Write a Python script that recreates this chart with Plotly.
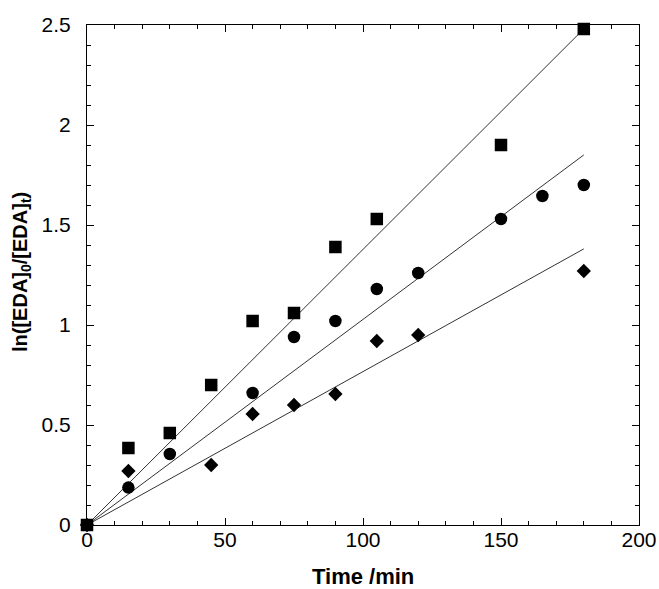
import plotly.graph_objects as go

# Data
sq_t = [0, 15, 30, 45, 60, 75, 90, 105, 150, 180]
sq_v = [0, 0.385, 0.46, 0.70, 1.02, 1.06, 1.39, 1.53, 1.90, 2.48]

ci_t = [0, 15, 30, 60, 75, 90, 105, 120, 150, 165, 180]
ci_v = [0, 0.187, 0.355, 0.66, 0.94, 1.02, 1.18, 1.26, 1.53, 1.645, 1.70]

di_t = [0, 15, 45, 60, 75, 90, 105, 120, 180]
di_v = [0, 0.27, 0.30, 0.555, 0.60, 0.655, 0.92, 0.95, 1.27]

# Linear fits through origin (slope per minute), drawn from 0 to 180 min
fit_t = [0, 180]
fit_slopes = [0.01378, 0.01028, 0.00767]

fig = go.Figure()

for s in fit_slopes:
    fig.add_trace(go.Scatter(x=fit_t, y=[s * t for t in fit_t], mode="lines",
                             line=dict(color="#333333", width=1), showlegend=False,
                             hoverinfo="skip"))

fig.add_trace(go.Scatter(x=di_t, y=di_v, mode="markers", cliponaxis=False,
                         marker=dict(symbol="diamond", size=11, color="black"), showlegend=False))
fig.add_trace(go.Scatter(x=ci_t, y=ci_v, mode="markers", cliponaxis=False,
                         marker=dict(symbol="circle", size=12.5, color="black"), showlegend=False))
fig.add_trace(go.Scatter(x=sq_t, y=sq_v, mode="markers", cliponaxis=False,
                         marker=dict(symbol="square", size=12.5, color="black"), showlegend=False))

font_family = "Liberation Sans, Arial, sans-serif"

L, R, T, B = 87, 20, 25, 64
W, H = 659, 589
pw, ph = W - L - R, H - T - B

fig.update_layout(
    width=W, height=H,
    margin=dict(l=L, r=R, t=T, b=B),
    plot_bgcolor="white", paper_bgcolor="white",
    font=dict(family=font_family, size=21, color="black"),
    xaxis=dict(range=[0, 200], dtick=50, tick0=0, showgrid=False, zeroline=False,
               showline=True, linecolor="black", linewidth=1, mirror="allticks",
               ticks="inside", ticklen=7, tickcolor="black", automargin=False,
               ticklabelstandoff=-4,
               minor=dict(dtick=10, ticks="inside", ticklen=4, tickcolor="black")),
    yaxis=dict(range=[0, 2.5], dtick=0.5, tick0=0, showgrid=False, zeroline=False,
               showline=True, linecolor="black", linewidth=1, mirror="allticks",
               ticks="inside", ticklen=7, tickcolor="black", automargin=False,
               ticklabelstandoff=11,
               minor=dict(dtick=0.1, ticks="inside", ticklen=4, tickcolor="black")),
    annotations=[
        dict(text="<b>Time /min</b>", xref="paper", yref="paper",
             x=(363 - L) / pw, y=-(576 - (T + ph)) / ph, showarrow=False,
             font=dict(size=22), xanchor="center", yanchor="middle"),
        dict(text="<b>ln([EDA]<sub>0</sub>/[EDA]<sub>t</sub>)</b>", xref="paper", yref="paper",
             x=-(L - 21) / pw, y=(525 - 272) / ph, showarrow=False, textangle=-90,
             font=dict(size=20), xanchor="center", yanchor="middle"),
    ],
)

fig.write_html("out.html", config={"displayModeBar": False},
               post_script="document.body.style.margin='0';document.body.style.overflow='hidden';")
